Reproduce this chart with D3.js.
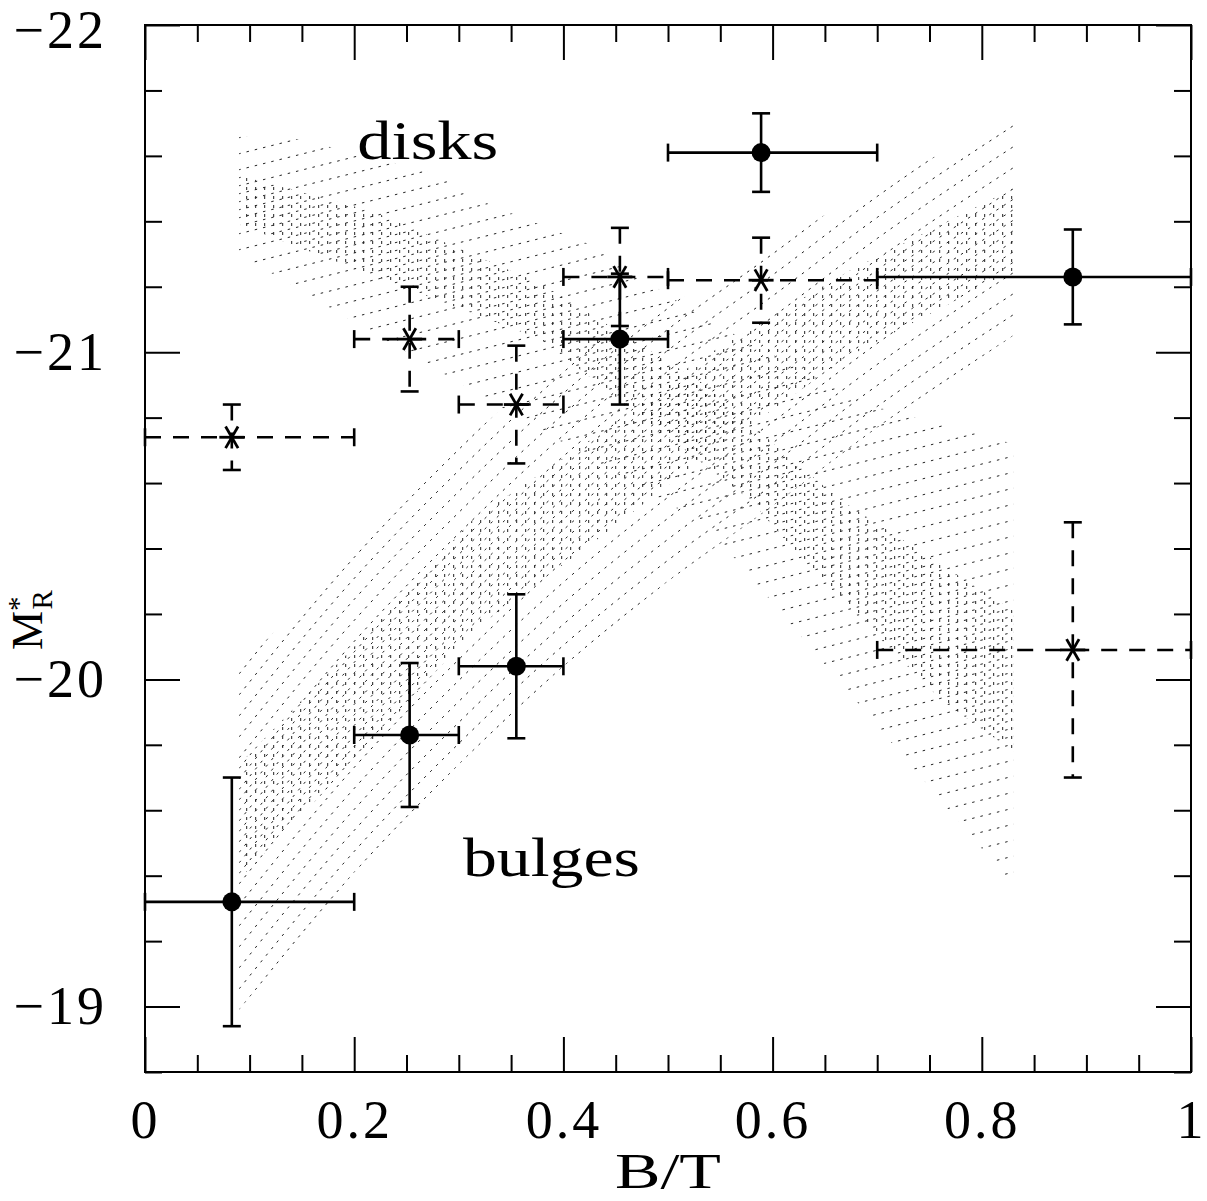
<!DOCTYPE html>
<html>
<head>
<meta charset="utf-8">
<script src="https://cdn.jsdelivr.net/npm/d3@7"></script>
<style>
body { margin: 0; background: #fff; }
svg { display: block; }
text { font-family: "Liberation Serif", "Times New Roman", serif; fill: #000; }
</style>
</head>
<body>
<svg id="chart"></svg>
<script>
var width = 1207,
    height = 1201;

// B/T bins
var binLo = [0, 0.2, 0.3, 0.4, 0.5, 0.7];
var binHi = [0.2, 0.3, 0.4, 0.5, 0.7, 1.0];
var binX  = [0.083, 0.253, 0.355, 0.454, 0.589, 0.887];

// filled circles, solid error bars
var solidM   = [-19.32, -19.83, -20.04, -21.04, -21.61, -21.23];
var solidErr = [0.38, 0.22, 0.22, 0.20, 0.12, 0.145];

// asterisks, dashed error bars
var dashM   = [-20.74, -21.04, -20.84, -21.23, -21.22, -20.09];
var dashErr = [0.10, 0.16, 0.18, 0.15, 0.13, 0.39];

// shaded regions [B/T, M]
var bulgeOuter = [[0.09,-20.04],[0.18,-20.32],[0.29,-20.69],[0.40,-20.98],[0.51,-21.16],[0.60,-21.31],
                  [0.645,-21.41],[0.735,-21.57],[0.83,-21.70],[0.83,-21.05],[0.7,-20.77],[0.6,-20.53],
                  [0.5,-20.30],[0.4,-20.04],[0.3,-19.74],[0.2,-19.41],[0.09,-18.99]];
var bulgeInner = [[0.09,-19.74],[0.2,-20.10],[0.314,-20.49],[0.425,-20.73],[0.531,-20.98],[0.674,-21.25],
                  [0.83,-21.50],[0.83,-21.25],[0.674,-20.99],[0.531,-20.67],[0.425,-20.41],[0.314,-20.15],
                  [0.2,-19.75],[0.09,-19.39]];
// lowest bulge model curve, the hatch follows its shape
var bulgeCurve = [[0.09,-18.99],[0.2,-19.41],[0.3,-19.74],[0.4,-20.04],[0.5,-20.30],[0.6,-20.53],
                  [0.7,-20.77],[0.83,-21.05]];
var diskOuter = [[0.09,-21.66],[0.148,-21.65],[0.275,-21.55],[0.33,-21.45],[0.425,-21.33],[0.531,-21.11],
                 [0.69,-20.84],[0.83,-20.72],[0.83,-19.37],[0.537,-20.47],[0.196,-21.10],[0.09,-21.30]];
var diskInner = [[0.09,-21.54],[0.218,-21.43],[0.378,-21.21],[0.531,-20.91],[0.664,-20.55],[0.83,-20.21],
                 [0.83,-19.78],[0.76,-19.94],[0.636,-20.34],[0.578,-20.55],[0.378,-21.04],[0.09,-21.39]];

var labels = [
    {text: "disks", bt: 0.203, m: -21.59, len: 141},
    {text: "bulges", bt: 0.304, m: -19.40, len: 177}
];

var xMajor = [0, 0.2, 0.4, 0.6, 0.8, 1];
var xMinor = d3.range(21).filter(i => i % 4 != 0).map(i => i * 0.05);
var yMajor = [-22, -21, -20, -19];
var yMinor = d3.range(17).filter(i => i % 5 != 0).map(i => -22 + i * 0.2);

var x = d3.scaleLinear().domain([0, 1]).range([145, 1191]);
var y = d3.scaleLinear().domain([-22, -18.8]).range([25, 1072]);

var svg = d3.select("#chart")
    .attr("width", width)
    .attr("height", height);

var defs = svg.append("defs");
var poly = d3.line().x(d => x(d[0])).y(d => y(d[1]));

function addClip(id, pts) {
    defs.append("clipPath").attr("id", id)
        .append("path").attr("d", poly(pts) + "Z");
}
addClip("clip-bulge-outer", bulgeOuter);
addClip("clip-bulge-inner", bulgeInner);
addClip("clip-disk-outer", diskOuter);
addClip("clip-disk-inner", diskInner);

// hatching
var hatch = svg.append("g")
    .attr("fill", "none")
    .attr("stroke", "#222")
    .attr("stroke-width", 1)
    .attr("stroke-dasharray", "2.5 6");

var curveLine = d3.line().x(d => x(d[0])).y(d => y(d[1])).curve(d3.curveMonotoneX);
var bulgeStep = 21;

hatch.append("g").attr("clip-path", "url(#clip-bulge-outer)")
    .selectAll("path").data(d3.range(0, 26)).join("path")
    .attr("d", curveLine(bulgeCurve))
    .attr("transform", k => "translate(0," + (-k * bulgeStep) + ")");

var bIn = hatch.append("g").attr("clip-path", "url(#clip-bulge-inner)");
bIn.selectAll("path").data(d3.range(0, 26)).join("path")
    .attr("d", curveLine(bulgeCurve))
    .attr("transform", k => "translate(0," + (-(k + 0.5) * bulgeStep) + ")");

var diskStep = 16, diskSlope = -0.25;
var dOut = hatch.append("g").attr("clip-path", "url(#clip-disk-outer)");
dOut.selectAll("line").data(d3.range(0, 72)).join("line")
    .attr("x1", 230).attr("x2", 1030)
    .attr("y1", k => 60 + diskStep * k)
    .attr("y2", k => 60 + diskStep * k + diskSlope * 800);

var dIn = hatch.append("g").attr("clip-path", "url(#clip-disk-inner)");
dIn.selectAll("line").data(d3.range(0, 72)).join("line")
    .attr("x1", 230).attr("x2", 1030)
    .attr("y1", k => 60 + diskStep * (k + 0.5))
    .attr("y2", k => 60 + diskStep * (k + 0.5) + diskSlope * 800);

// vertical ticks inside the dense parts
var vcols = d3.range(x(0.08), x(0.84), 9);
[bIn, dIn].forEach(function(g) {
    g.append("g").attr("stroke-dasharray", "3 6")
        .selectAll("line").data(vcols).join("line")
        .attr("x1", d => d).attr("x2", d => d)
        .attr("y1", y(-22)).attr("y2", y(-18.8));
});

// error bars
var cap = 9;
function errorBars(mVals, eVals, dashed) {
    var g = svg.append("g")
        .attr("stroke", "#000")
        .attr("stroke-width", 2.6)
        .attr("fill", "none");
    var bars = g.selectAll("g").data(binX.map((b, i) => i)).join("g");
    var dash = dashed ? "16 12" : null;
    bars.append("line")
        .attr("x1", i => x(binLo[i])).attr("x2", i => x(binHi[i]))
        .attr("y1", i => y(mVals[i])).attr("y2", i => y(mVals[i]))
        .attr("stroke-dasharray", dash);
    bars.append("line")
        .attr("x1", i => x(binX[i])).attr("x2", i => x(binX[i]))
        .attr("y1", i => y(mVals[i] - eVals[i])).attr("y2", i => y(mVals[i] + eVals[i]))
        .attr("stroke-dasharray", dash);
    // caps
    [binLo, binHi].forEach(function(arr) {
        bars.append("line")
            .attr("x1", i => x(arr[i])).attr("x2", i => x(arr[i]))
            .attr("y1", i => y(mVals[i]) - cap).attr("y2", i => y(mVals[i]) + cap);
    });
    [-1, 1].forEach(function(s) {
        bars.append("line")
            .attr("x1", i => x(binX[i]) - cap).attr("x2", i => x(binX[i]) + cap)
            .attr("y1", i => y(mVals[i] + s * eVals[i])).attr("y2", i => y(mVals[i] + s * eVals[i]));
    });
}
errorBars(dashM, dashErr, true);
errorBars(solidM, solidErr, false);

// asterisks
var starR = 12.5;
var star = svg.append("g").attr("stroke", "#000").attr("stroke-width", 2.8)
    .selectAll("g").data(binX.map((b, i) => i)).join("g")
    .attr("transform", i => "translate(" + x(binX[i]) + "," + y(dashM[i]) + ")");
[0, 60, 120].forEach(function(a) {
    var r = a * Math.PI / 180;
    star.append("line")
        .attr("x1", -starR * Math.cos(r)).attr("y1", -starR * Math.sin(r))
        .attr("x2", starR * Math.cos(r)).attr("y2", starR * Math.sin(r));
});

// filled circles
svg.append("g").selectAll("circle").data(binX.map((b, i) => i)).join("circle")
    .attr("cx", i => x(binX[i]))
    .attr("cy", i => y(solidM[i]))
    .attr("r", 9.5)
    .attr("fill", "#000");

// region labels
svg.append("g").selectAll("text").data(labels).join("text")
    .attr("x", d => x(d.bt))
    .attr("y", d => y(d.m))
    .attr("font-size", 54)
    .attr("textLength", d => d.len)
    .attr("lengthAdjust", "spacingAndGlyphs")
    .text(d => d.text);

// axes
function styleAxis(g) {
    g.select(".domain").remove();
    g.selectAll(".tick line").attr("stroke-width", 2);
    g.attr("font-family", null).attr("font-size", 54);
    g.selectAll("text").attr("letter-spacing", "3px");
}
var xb = y(-18.8), xt = y(-22), yl = x(0), yr = x(1);

svg.append("g").attr("transform", "translate(0," + xb + ")")
    .call(d3.axisBottom(x).tickValues(xMajor).tickSize(-35).tickSizeOuter(0)
        .tickPadding(28).tickFormat(d3.format("~g")))
    .call(styleAxis);
svg.append("g").attr("transform", "translate(0," + xb + ")")
    .call(d3.axisBottom(x).tickValues(xMinor).tickSize(-17).tickFormat(""))
    .call(styleAxis);
svg.append("g").attr("transform", "translate(0," + xt + ")")
    .call(d3.axisTop(x).tickValues(xMajor).tickSize(-35).tickFormat(""))
    .call(styleAxis);
svg.append("g").attr("transform", "translate(0," + xt + ")")
    .call(d3.axisTop(x).tickValues(xMinor).tickSize(-17).tickFormat(""))
    .call(styleAxis);

var yAxisG = svg.append("g").attr("transform", "translate(" + yl + ",0)")
    .call(d3.axisLeft(y).tickValues(yMajor).tickSize(-35).tickSizeOuter(0)
        .tickPadding(38).tickFormat(d3.format("d")))
    .call(styleAxis);
// keep the top label inside the page
yAxisG.selectAll(".tick text").filter(d => d == -22).attr("dy", "0.42em");
svg.append("g").attr("transform", "translate(" + yl + ",0)")
    .call(d3.axisLeft(y).tickValues(yMinor).tickSize(-17).tickFormat(""))
    .call(styleAxis);
svg.append("g").attr("transform", "translate(" + yr + ",0)")
    .call(d3.axisRight(y).tickValues(yMajor).tickSize(-35).tickFormat(""))
    .call(styleAxis);
svg.append("g").attr("transform", "translate(" + yr + ",0)")
    .call(d3.axisRight(y).tickValues(yMinor).tickSize(-17).tickFormat(""))
    .call(styleAxis);

// frame
svg.append("rect")
    .attr("x", yl).attr("y", xt)
    .attr("width", yr - yl).attr("height", xb - xt)
    .attr("fill", "none")
    .attr("stroke", "#000")
    .attr("stroke-width", 2);

// axis titles
svg.append("text")
    .attr("x", x(0.5)).attr("y", 1188)
    .attr("text-anchor", "middle")
    .attr("font-size", 50)
    .attr("textLength", 106)
    .attr("lengthAdjust", "spacingAndGlyphs")
    .text("B/T");

var yt = svg.append("text")
    .attr("transform", "translate(42,650) rotate(-90)")
    .attr("font-size", 44);
yt.append("tspan").text("M");
yt.append("tspan").attr("font-size", 29).attr("dy", -14).text("*");
yt.append("tspan").attr("font-size", 29).attr("dx", -13).attr("dy", 24).text("R");
</script>
</body>
</html>
